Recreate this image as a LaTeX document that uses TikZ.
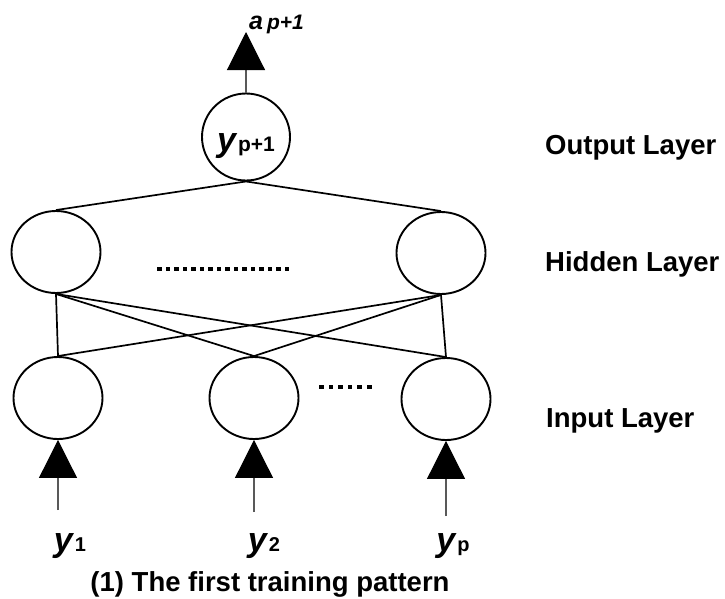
\documentclass[tikz,border=0pt]{standalone}
\usepackage{fontspec}
\setmainfont{Liberation Sans}
\usetikzlibrary{shapes.geometric,arrows.meta}

\newcommand{\sublbl}[3][20]{{\fontsize{34}{34}\selectfont\bfseries\itshape #2}\kern2pt{\fontsize{#1}{#1}\selectfont\bfseries #3}}

\tikzset{
  neuron/.style={draw, ellipse, line width=1.9pt, inner sep=0pt,
    minimum width=89pt, minimum height=82pt},
  link/.style={line width=1.7pt},
  feed/.style={line width=1.1pt, black!65,
    -{Triangle[width=38pt,length=38pt,black]}},
  layer/.style={anchor=base west, inner sep=0pt,
    font=\fontsize{27.5}{27.5}\selectfont\bfseries},
}

\begin{document}
\begin{tikzpicture}[x=1pt,y=-1pt]
    \useasboundingbox (0,0) rectangle (725,598);

    \node[neuron, minimum width=88pt, minimum height=87pt] (out) at (246,137)
      {\raisebox{-14pt}[0pt][0pt]{\sublbl[21]{y}{p+1}}};
    \node[neuron] (h1) at (56,252) {};
    \node[neuron] (hn) at (441,253) {};
    \node[neuron] (i1) at (58,398) {};
    \node[neuron] (i2) at (254,398) {};
    \node[neuron] (ip) at (446,399) {};

    \draw[link] (out.south) -- (h1.north);
    \draw[link] (out.south) -- (hn.north);
    \foreach \h in {h1,hn}
      \foreach \i in {i1,i2,ip}
        \draw[link] (\h.south) -- (\i.north);

    % dots between the neurons
    \foreach \k in {0,...,15}
      \fill (157+\k*8.5,267) rectangle +(4.5,4);
    \foreach \k in {0,...,5}
      \fill (319+\k*9.6,385) rectangle +(4.5,4);

    \coordinate (top) at (246,32);
    \draw[feed] (out.north) -- (top);
    \node[anchor=base west, inner sep=0pt] (a) at (249,29)
      {{\fontsize{25}{25}\selectfont\bfseries\itshape a}\kern4pt{\fontsize{21}{21}\selectfont\bfseries\itshape p+1}};

    \coordinate (s1) at (58,510);
    \coordinate (s2) at (254,512);
    \coordinate (sp) at (446,516);
    \draw[feed] (s1) -- (i1.south);
    \draw[feed] (s2) -- (i2.south);
    \draw[feed] (sp) -- (ip.south);

    \node[anchor=base, inner sep=0pt] (y1) at (70,551) {\sublbl{y}{1}};
    \node[anchor=base, inner sep=0pt] (y2) at (264,551) {\sublbl{y}{2}};
    \node[anchor=base, inner sep=0pt] (yp) at (453,551) {\sublbl{y}{p}};

    \node[layer] (lo) at (545,154) {Output Layer};
    \node[layer] (lh) at (545,271) {Hidden Layer};
    \node[layer] (li) at (546,427) {Input Layer};

    \node[anchor=base, inner sep=0pt, font=\fontsize{27.5}{27.5}\selectfont\bfseries]
      (cap) at (270,591) {(1) The first training pattern};
  \end{tikzpicture}
\end{document}
